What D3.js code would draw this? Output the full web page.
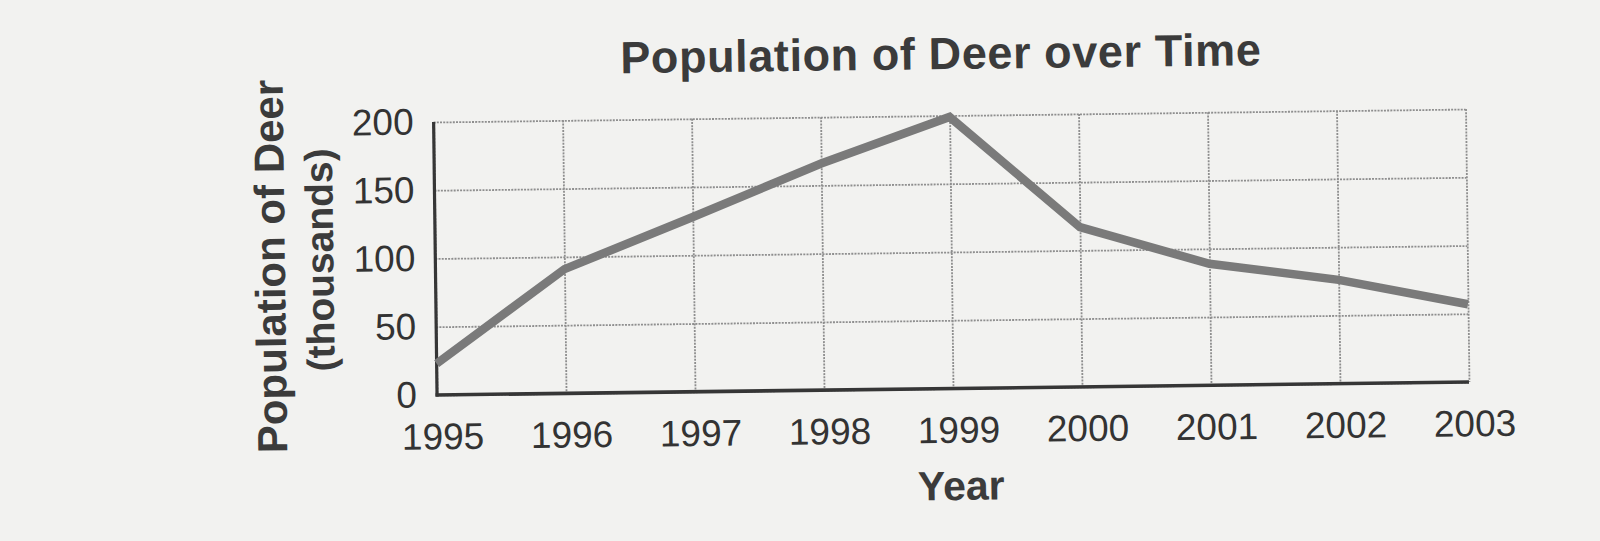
<!DOCTYPE html>
<html>
<head>
<meta charset="utf-8">
<script src="https://cdn.jsdelivr.net/npm/d3@7"></script>
<style>
    html, body { margin: 0; padding: 0; background: #f2f2f0; }
    svg { display: block; }
    text { font-family: 'Liberation Sans', Arial, Helvetica, sans-serif; fill: #333; }
</style>
</head>
<body>
<div id="deer_chart"></div>
<script>
// Data (population in thousands)
var years = [1995, 1996, 1997, 1998, 1999, 2000, 2001, 2002, 2003];
var deer = [23, 91, 128, 166, 199, 117, 89, 76, 57];
var yTicks = [0, 50, 100, 150, 200];

// Setup SVG area for chart
var fullWidth = 1600;
var fullHeight = 541;
var margin = { top: 115.5, left: 437 };
var width = 1032;
var height = 273;

// the scan is tilted a little, so the whole chart gets turned with it
var tilt = 'rotate(-0.72, 953, 388.5)';

var svg = d3.select('#deer_chart').append('svg')
    .attr('width', fullWidth)
    .attr('height', fullHeight);

svg.append('rect')
    .attr('width', fullWidth)
    .attr('height', fullHeight)
    .attr('fill', '#f2f2f0');

var page = svg.append('g')
    .attr('transform', tilt);

var chart = page.append('g')
    .attr('transform', 'translate(' + margin.left + ',' + margin.top + ')');

// Scales
var xScale = d3.scaleLinear()
    .domain([years[0], years[years.length - 1]])
    .range([0, width]);

var yScale = d3.scaleLinear()
    .domain([0, 200])
    .range([height, 0]);

/******************************************************************************
 * Gridlines
 *****************************************************************************/
var xGrid = chart.append('g')
    .classed('x grid', true)
    .call(d3.axisBottom(xScale).tickValues(years).tickSize(height).tickFormat(''));

var yGrid = chart.append('g')
    .classed('y grid', true)
    .call(d3.axisLeft(yScale).tickValues(yTicks).tickSize(-width).tickFormat(''));

chart.selectAll('.grid .domain').remove();
chart.selectAll('.grid line')
    .style('stroke', '#8e8e8e')
    .style('stroke-width', 1.8)
    .style('stroke-dasharray', '2,1.2');

/******************************************************************************
 * Axes and tick labels
 *****************************************************************************/
var xAxisEle = chart.append('g')
    .classed('x axis', true)
    .attr('transform', 'translate(0,' + height + ')')
    .call(d3.axisBottom(xScale).tickValues(years).tickFormat(d3.format('d'))
        .tickSize(0).tickPadding(28));

var yAxisEle = chart.append('g')
    .classed('y axis', true)
    .call(d3.axisLeft(yScale).tickValues(yTicks).tickSize(0).tickPadding(20));

chart.selectAll('.axis .domain').remove();
chart.selectAll('.axis text')
    .style('font-size', '37px')
    .style('fill', '#333');
xAxisEle.selectAll('text').attr('x', 5);

// solid left and bottom axis lines
chart.append('line')
    .attr('x1', 0).attr('x2', 0)
    .attr('y1', 0).attr('y2', height + 1.5)
    .style('stroke', '#363636')
    .style('stroke-width', 3.2);

chart.append('line')
    .attr('x1', -1.5).attr('x2', width)
    .attr('y1', height).attr('y2', height)
    .style('stroke', '#363636')
    .style('stroke-width', 3.6);

/******************************************************************************
 * Deer population line
 *****************************************************************************/
var line = d3.line()
    .x(function (d, i) { return xScale(years[i]); })
    .y(function (d) { return yScale(d); });

chart.append('path')
    .datum(deer)
    .attr('d', line)
    .style('fill', 'none')
    .style('stroke', '#7a7a7a')
    .style('stroke-width', 8.5)
    .style('stroke-linejoin', 'miter');

/******************************************************************************
 * Titles
 *****************************************************************************/
page.append('text')
    .attr('x', 945)
    .attr('y', 69)
    .style('text-anchor', 'middle')
    .style('font-size', '45px')
    .style('font-weight', 'bold')
    .style('letter-spacing', '0.6px')
    .style('fill', '#3b3b3b')
    .text('Population of Deer over Time');

page.append('text')
    .attr('x', 960)
    .attr('y', 500)
    .style('text-anchor', 'middle')
    .style('font-size', '41px')
    .style('font-weight', 'bold')
    .style('fill', '#3b3b3b')
    .text('Year');

page.append('text')
    .attr('transform', 'translate(286.5,258)rotate(-90)')
    .style('text-anchor', 'middle')
    .style('font-size', '42px')
    .style('font-weight', 'bold')
    .style('fill', '#3b3b3b')
    .text('Population of Deer');

page.append('text')
    .attr('transform', 'translate(335,252)rotate(-90)')
    .style('text-anchor', 'middle')
    .style('font-size', '39px')
    .style('font-weight', 'bold')
    .style('fill', '#3b3b3b')
    .text('(thousands)');
</script>
</body>
</html>
